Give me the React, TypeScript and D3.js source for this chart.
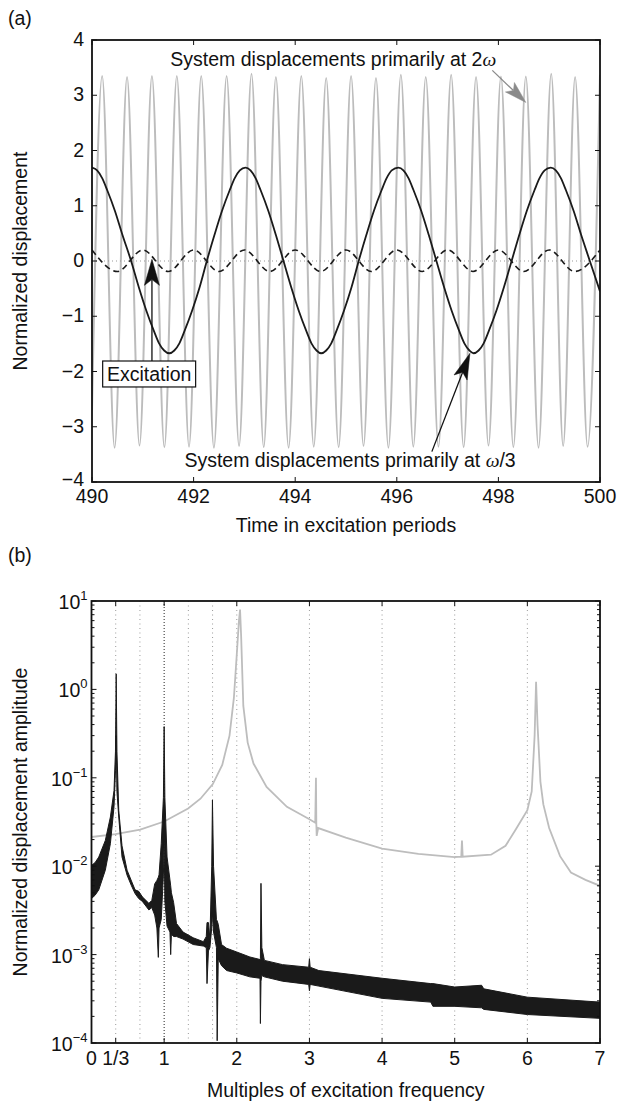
import React from "react";
import * as d3 from "d3";

// ---------- Panel (a) data ----------
const A_XTICKS = [490, 492, 494, 496, 498, 500];
const A_YTICKS = [-4, -3, -2, -1, 0, 1, 2, 3, 4];

// grey response (primarily at 2ω): extrema times and values
const GRAY_T = [
  490.0, 490.2, 490.445, 490.69, 490.935, 491.18, 491.425, 491.67, 491.91, 492.15, 492.4,
  492.65, 492.895, 493.14, 493.38, 493.62, 493.87, 494.12, 494.365, 494.61, 494.855,
  495.1, 495.345, 495.59, 495.835, 496.08, 496.325, 496.57, 496.82, 497.07, 497.315,
  497.56, 497.805, 498.05, 498.295, 498.54, 498.79, 499.04, 499.275, 499.51, 499.755, 500.0,
];
const GRAY_V = [
  -2.7, 3.35, -3.38, 3.33, -3.34, 3.35, -3.37, 3.35, -3.36, 3.35, -3.38,
  3.35, -3.35, 3.39, -3.37, 3.33, -3.38, 3.35, -3.36, 3.31, -3.37,
  3.35, -3.35, 3.31, -3.38, 3.37, -3.36, 3.33, -3.36, 3.37, -3.37,
  3.33, -3.34, 3.34, -3.37, 3.34, -3.38, 3.39, -3.35, 3.33, -3.36, 3.37,
];

// black response (primarily at ω/3)
const BLACK_T = [
  490.0, 490.1, 490.2, 490.3, 490.45, 490.6, 490.77, 490.92, 491.07, 491.22, 491.32, 491.42,
  491.52, 491.62, 491.72, 491.82, 491.97, 492.12, 492.26, 492.41, 492.56, 492.71, 492.81, 492.91,
  493.02, 493.12, 493.22, 493.32, 493.47, 493.62, 493.77, 493.92, 494.07, 494.22, 494.32, 494.42,
  494.51, 494.61, 494.71, 494.81, 494.96, 495.11, 495.25, 495.4, 495.55, 495.7, 495.8, 495.9,
  496.03, 496.13, 496.23, 496.33, 496.48, 496.63, 496.78, 496.93, 497.08, 497.23, 497.33, 497.43,
  497.51, 497.61, 497.71, 497.81, 497.96, 498.11, 498.26, 498.41, 498.56, 498.71, 498.81, 498.91,
  499.03, 499.13, 499.23, 499.33, 499.48, 499.63, 499.8, 500.0,
];
const BLACK_V = [
  1.69, 1.64, 1.5, 1.28, 0.91, 0.47, 0.0, -0.47, -0.9, -1.27, -1.49, -1.62,
  -1.67, -1.62, -1.49, -1.27, -0.9, -0.47, 0.0, 0.47, 0.91, 1.28, 1.5, 1.64,
  1.69, 1.64, 1.5, 1.28, 0.91, 0.47, 0.0, -0.47, -0.9, -1.27, -1.49, -1.62,
  -1.67, -1.62, -1.49, -1.27, -0.9, -0.47, 0.0, 0.47, 0.91, 1.28, 1.5, 1.64,
  1.69, 1.64, 1.5, 1.28, 0.91, 0.47, 0.0, -0.47, -0.9, -1.27, -1.49, -1.62,
  -1.67, -1.62, -1.49, -1.27, -0.9, -0.47, 0.0, 0.47, 0.91, 1.28, 1.5, 1.64,
  1.69, 1.64, 1.5, 1.28, 0.91, 0.47, 0.0, -0.55,
];

// excitation (dashed)
const EXC_T = [
  490, 490.5, 491, 491.5, 492, 492.5, 493, 493.5, 494, 494.5, 495,
  495.5, 496, 496.5, 497, 497.5, 498, 498.5, 499, 499.5, 500,
];
const EXC_V = [
  0.2, -0.19, 0.2, -0.19, 0.2, -0.19, 0.2, -0.19, 0.2, -0.19, 0.2,
  -0.19, 0.2, -0.19, 0.2, -0.19, 0.2, -0.19, 0.2, -0.19, 0.2,
];

// ---------- Panel (b) data ----------
const B_XTICKS = [0, 1 / 3, 1, 2, 3, 4, 5, 6, 7];
const B_XLABELS = ["0", "1/3", "1", "2", "3", "4", "5", "6", "7"];
const B_GRID = [1 / 3, 2 / 3, 1, 4 / 3, 5 / 3, 2, 3, 4, 5, 6];
const B_YEXP = [-4, -3, -2, -1, 0, 1];

// grey spectrum
const SPEC_GRAY_F = [
  0, 0.33, 0.67, 1.0, 1.33, 1.5, 1.67, 1.8, 1.9, 1.96, 2.0, 2.03, 2.045, 2.06, 2.09, 2.15,
  2.23, 2.41, 2.69, 2.87, 3.0, 3.08, 3.09, 3.095, 3.1, 3.12, 3.5, 4.0, 4.5, 5.0, 5.09, 5.1,
  5.11, 5.5, 5.7, 5.84, 6.0, 6.06, 6.1, 6.12, 6.14, 6.18, 6.22, 6.3, 6.45, 6.6, 6.8, 7.0,
];
const SPEC_GRAY_A = [
  0.0214, 0.023, 0.026, 0.032, 0.045, 0.058, 0.085, 0.14, 0.3, 0.8, 2.5, 6, 8, 4, 0.65, 0.25,
  0.145, 0.079, 0.047, 0.039, 0.034, 0.031, 0.1, 0.03, 0.022, 0.027, 0.021, 0.0158, 0.0138, 0.0127, 0.0128, 0.0195,
  0.0128, 0.0135, 0.017, 0.026, 0.043, 0.07, 0.3, 1.22, 0.4, 0.09, 0.05, 0.027, 0.013, 0.0085, 0.007, 0.006,
];

// black spectrum: band envelope (upper / lower)
const SPEC_BLK_F = [
  0.0, 0.05, 0.1, 0.19, 0.26, 0.31, 0.33, 0.34, 0.35, 0.375, 0.42, 0.49, 0.55, 0.6, 0.65, 0.7,
  0.79, 0.83, 0.87, 0.9, 0.92, 0.93, 0.96, 0.99, 1.0, 1.01, 1.04, 1.08, 1.09, 1.1, 1.13, 1.17,
  1.26, 1.4, 1.54, 1.58, 1.59, 1.61, 1.63, 1.655, 1.665, 1.68, 1.72, 1.73, 1.745, 1.79, 1.86, 2.0,
  2.18, 2.32, 2.325, 2.333, 2.345, 2.38, 2.63, 2.99, 3.0, 3.01, 3.13, 4.0, 4.67, 4.7, 5.0, 5.37,
  5.4, 6.0, 7.0,
];
const SPEC_BLK_HI = [
  0.0102, 0.011, 0.0127, 0.0195, 0.036, 0.072, 0.2, 1.5, 0.2, 0.043, 0.017, 0.009, 0.0068, 0.0054, 0.0052, 0.0045,
  0.0038, 0.0041, 0.0063, 0.0069, 0.0075, 0.008, 0.018, 0.06, 0.38, 0.06, 0.0127, 0.007, 0.006, 0.005, 0.0039, 0.00225,
  0.0018, 0.00155, 0.0014, 0.0016, 0.0023, 0.0023, 0.0015, 0.01, 0.056, 0.01, 0.0025, 0.0024, 0.0022, 0.0013, 0.00118, 0.00107,
  0.00094, 0.00088, 0.0009, 0.0064, 0.0012, 0.00086, 0.00077, 0.00072, 0.0009, 0.00072, 0.00066, 0.00054, 0.00047, 0.00047, 0.00043, 0.00045,
  0.00041, 0.00033, 0.00029,
];
const SPEC_BLK_LO = [
  0.0043, 0.0047, 0.0054, 0.009, 0.018, 0.047, 0.12, 0.3, 0.07, 0.036, 0.0127, 0.0079, 0.006, 0.0049, 0.0043, 0.004,
  0.0032, 0.0034, 0.0028, 0.002, 0.00093, 0.002, 0.0025, 0.008, 0.02, 0.004, 0.0021, 0.0018, 0.001, 0.0017, 0.0016, 0.0016,
  0.0015, 0.0013, 0.00125, 0.0012, 0.00047, 0.0011, 0.0012, 0.002, 0.003, 0.0018, 0.0012, 0.000106, 0.0009, 0.00075, 0.00066, 0.00062,
  0.00056, 0.00054, 0.000166, 0.0005, 0.00058, 0.00056, 0.0005, 0.00046, 0.00039, 0.00046, 0.00044, 0.00032, 0.00029, 0.00026, 0.00026, 0.00025,
  0.00024, 0.00021, 0.00019,
];

// ---------- layout ----------
const W = 617;
const H = 1102;
const FONT = "'Liberation Sans', Arial, Helvetica, sans-serif";
const FS = 19.5;
const A = { l: 92, r: 600, t: 40, b: 482 };
const B = { l: 91.5, r: 600, t: 601, b: 1043 };

function headPath(x1: number, y1: number, x2: number, y2: number, len: number, hw: number, notch: number) {
  const dx = x2 - x1, dy = y2 - y1;
  const L = Math.hypot(dx, dy);
  const ux = dx / L, uy = dy / L;
  const nx = -uy, ny = ux;
  const bx = x2 - ux * len, by = y2 - uy * len;
  const mx = x2 - ux * len * notch, my = y2 - uy * len * notch;
  return {
    d: `M${x2},${y2}L${bx + nx * hw},${by + ny * hw}L${mx},${my}L${bx - nx * hw},${by - ny * hw}Z`,
    mx,
    my,
  };
}

function Arrow({ x1, y1, x2, y2, color, len = 25, hw = 7, width = 1.3 }: any) {
  const h = headPath(x1, y1, x2, y2, len, hw, 0.78);
  return (
    <g>
      <line x1={x1} y1={y1} x2={h.mx} y2={h.my} stroke={color} strokeWidth={width} />
      <path d={h.d} fill={color} stroke={color} strokeWidth={0.5} strokeLinejoin="miter" />
    </g>
  );
}

export default function App() {
  // panel a scales
  const xa = d3.scaleLinear().domain([490, 500]).range([A.l, A.r]);
  const ya = d3.scaleLinear().domain([-4, 4]).range([A.b, A.t]);
  const lineA = (T: number[], V: number[]) =>
    d3
      .line<number>()
      .x((_, i) => xa(T[i]))
      .y((v) => ya(v))
      .curve(d3.curveMonotoneX)(V) as string;

  // panel b scales
  const xb = d3.scaleLinear().domain([0, 7]).range([B.l, B.r]);
  const yb = d3.scaleLog().domain([1e-4, 10]).range([B.b, B.t]);
  const grayLine = d3
    .line<number>()
    .x((_, i) => xb(SPEC_GRAY_F[i]))
    .y((v) => yb(v))(SPEC_GRAY_A) as string;
  const blkArea = d3
    .area<number>()
    .x((_, i) => xb(SPEC_BLK_F[i]))
    .y0((_, i) => yb(SPEC_BLK_LO[i]))
    .y1((v) => yb(v))(SPEC_BLK_HI) as string;
  const yTicksB = yb.ticks();

  const tickLen = 5;

  return (
    <div style={{ position: "absolute", left: 0, top: 0, width: W, height: H, background: "#fff" }}>
      <svg width={W} height={H} style={{ display: "block" }} fontFamily={FONT}>
        <defs>
          <clipPath id="clipA">
            <rect x={A.l} y={A.t} width={A.r - A.l} height={A.b - A.t} />
          </clipPath>
          <clipPath id="clipB">
            <rect x={B.l} y={B.t} width={B.r - B.l} height={B.b - B.t} />
          </clipPath>
        </defs>
        <rect x={0} y={0} width={W} height={H} fill="#fff" />

        {/* ================= Panel (a) ================= */}
        <text x={8} y={25} fontSize={FS} fill="#111">(a)</text>
        <g clipPath="url(#clipA)">
          <path d={lineA(GRAY_T, GRAY_V)} fill="none" stroke="#bcbcbc" strokeWidth={2} />
          <line x1={A.l} x2={A.r} y1={ya(0)} y2={ya(0)} stroke="#999" strokeWidth={1} strokeDasharray="1,3" />
          <path d={lineA(EXC_T, EXC_V)} fill="none" stroke="#1a1a1a" strokeWidth={1.6} strokeDasharray="6,4" />
          <path d={lineA(BLACK_T, BLACK_V)} fill="none" stroke="#1a1a1a" strokeWidth={1.8} />
        </g>

        {/* ticks a */}
        {A_YTICKS.map((v) => (
          <g key={"ay" + v}>
            <line x1={A.l} x2={A.l + tickLen} y1={ya(v)} y2={ya(v)} stroke="#111" strokeWidth={1} />
            <line x1={A.r} x2={A.r - tickLen} y1={ya(v)} y2={ya(v)} stroke="#111" strokeWidth={1} />
            <text x={A.l - 8} y={ya(v) + (v === -4 ? 4 : 6)} fontSize={FS} textAnchor="end" fill="#111">
              {v < 0 ? "\u2212" + Math.abs(v) : String(v)}
            </text>
          </g>
        ))}
        {A_XTICKS.map((v) => (
          <g key={"ax" + v}>
            <line x1={xa(v)} x2={xa(v)} y1={A.b} y2={A.b - tickLen} stroke="#111" strokeWidth={1} />
            <line x1={xa(v)} x2={xa(v)} y1={A.t} y2={A.t + tickLen} stroke="#111" strokeWidth={1} />
            <text x={xa(v)} y={A.b + 21} fontSize={FS} textAnchor="middle" fill="#111">
              {v}
            </text>
          </g>
        ))}
        <rect x={A.l} y={A.t} width={A.r - A.l} height={A.b - A.t} fill="none" stroke="#111" strokeWidth={1.8} />
        <text x={(A.l + A.r) / 2} y={532} fontSize={FS} textAnchor="middle" fill="#111">
          Time in excitation periods
        </text>
        <text
          transform={`translate(27,${(A.t + A.b) / 2}) rotate(-90)`}
          fontSize={FS}
          textAnchor="middle"
          fill="#111"
        >
          Normalized displacement
        </text>

        {/* annotations a */}
        <text x={xa(494.75)} y={ya(3.535)} fontSize={FS} textAnchor="middle" fill="#111">
          System displacements primarily at 2
          <tspan fontStyle="italic" fontFamily="'Liberation Serif', 'DejaVu Serif', serif">ω</tspan>
        </text>
        <Arrow x1={xa(497.88)} y1={ya(3.45)} x2={xa(498.54)} y2={ya(2.87)} color="#8a8a8a" len={22} hw={6.5} width={1.3} />

        <rect x={xa(490.21)} y={ya(-1.81)} width={xa(492.04) - xa(490.21)} height={ya(-2.28) - ya(-1.81)} fill="#fff" stroke="#111" strokeWidth={1.2} />
        <text x={(xa(490.21) + xa(492.04)) / 2} y={ya(-2.045) + 7} fontSize={FS} textAnchor="middle" fill="#111">
          Excitation
        </text>
        <Arrow x1={xa(491.18)} y1={ya(-1.81)} x2={xa(491.18)} y2={ya(0.03)} color="#111" len={26} hw={7.5} width={1.3} />

        <text x={xa(495.08)} y={ya(-3.72)} fontSize={FS} textAnchor="middle" fill="#111">
          System displacements primarily at{" "}
          <tspan fontStyle="italic" fontFamily="'Liberation Serif', 'DejaVu Serif', serif">ω</tspan>/3
        </text>
        <Arrow x1={xa(496.69)} y1={ya(-3.45)} x2={xa(497.44)} y2={ya(-1.67)} color="#111" len={26} hw={7} width={1.3} />

        {/* ================= Panel (b) ================= */}
        <text x={8} y={562} fontSize={FS} fill="#111">(b)</text>
        {B_GRID.map((f, i) => (
          <line
            key={"g" + i}
            x1={xb(f)}
            x2={xb(f)}
            y1={B.t}
            y2={B.b}
            stroke={Math.abs(f - 1) < 1e-9 ? "#222" : "#9a9a9a"}
            strokeWidth={1}
            strokeDasharray={Math.abs(f - 1) < 1e-9 ? "1,2" : "1,3.5"}
          />
        ))}
        <g clipPath="url(#clipB)">
          <path d={grayLine} fill="none" stroke="#bdbdbd" strokeWidth={1.8} />
          <path d={blkArea} fill="#1a1a1a" stroke="#1a1a1a" strokeWidth={1} strokeLinejoin="round" />
        </g>

        {yTicksB.map((v, i) => {
          const e = Math.log10(v);
          const major = Math.abs(e - Math.round(e)) < 1e-9;
          const len = major ? 5 : 3;
          return (
            <g key={"by" + i}>
              <line x1={B.l} x2={B.l + len} y1={yb(v)} y2={yb(v)} stroke="#111" strokeWidth={1} />
              <line x1={B.r} x2={B.r - len} y1={yb(v)} y2={yb(v)} stroke="#111" strokeWidth={1} />
            </g>
          );
        })}
        {B_YEXP.map((e) => (
          <text key={"bl" + e} x={B.l - 4} y={yb(Math.pow(10, e)) + 8} fontSize={FS} textAnchor="end" fill="#111">
            10
            <tspan dy={-9} fontSize={13}>
              {e < 0 ? "\u2212" + Math.abs(e) : String(e)}
            </tspan>
          </text>
        ))}
        {B_XTICKS.map((v, i) => (
          <g key={"bx" + i}>
            <line x1={xb(v)} x2={xb(v)} y1={B.b} y2={B.b - tickLen} stroke="#111" strokeWidth={1} />
            <line x1={xb(v)} x2={xb(v)} y1={B.t} y2={B.t + tickLen} stroke="#111" strokeWidth={1} />
            <text x={xb(v)} y={B.b + 22} fontSize={FS} textAnchor="middle" fill="#111">
              {B_XLABELS[i]}
            </text>
          </g>
        ))}
        <rect x={B.l} y={B.t} width={B.r - B.l} height={B.b - B.t} fill="none" stroke="#111" strokeWidth={1.8} />
        <text x={(B.l + B.r) / 2} y={1097} fontSize={FS} textAnchor="middle" fill="#111">
          Multiples of excitation frequency
        </text>
        <text
          transform={`translate(27,${(B.t + B.b) / 2}) rotate(-90)`}
          fontSize={FS}
          textAnchor="middle"
          fill="#111"
        >
          Normalized displacement amplitude
        </text>
      </svg>
    </div>
  );
}
